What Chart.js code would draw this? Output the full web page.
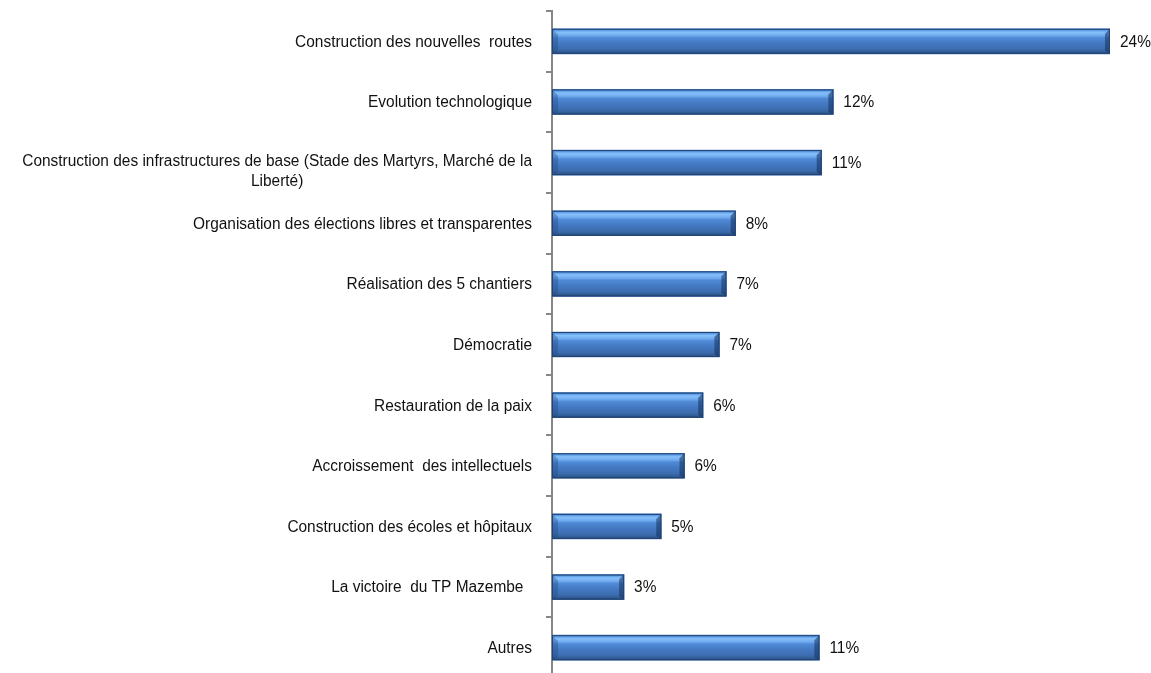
<!DOCTYPE html>
<html>
<head>
<meta charset="utf-8">
<script src="https://cdn.jsdelivr.net/npm/chart.js@4"></script>
<style>
html,body{margin:0;padding:0;background:#fff;overflow:hidden}
#wrap{position:relative;width:1151px;height:678px}
</style>
</head>
<body>
<div id="wrap"><canvas id="chart"></canvas></div>
<script>
const categories = [
    'Construction des nouvelles  routes',
    'Evolution technologique',
    ['Construction des infrastructures de base (Stade des Martyrs, Marché de la', 'Liberté)'],
    'Organisation des élections libres et transparentes',
    'Réalisation des 5 chantiers',
    'Démocratie',
    'Restauration de la paix',
    'Accroissement  des intellectuels',
    'Construction des écoles et hôpitaux',
    'La victoire  du TP Mazembe  ',
    'Autres'
];
const values = [24, 12.1, 11.6, 7.9, 7.5, 7.2, 6.5, 5.7, 4.7, 3.1, 11.5];
const valueLabels = ['24%', '12%', '11%', '8%', '7%', '7%', '6%', '6%', '5%', '3%', '11%'];

const FONT = '16px "Liberation Sans", Arial, sans-serif';
const SQUEEZE = 0.965; // reference text is a bit condensed

function squeezedText(ctx, text, x, y, align) {
    ctx.save();
    ctx.translate(x, y);
    ctx.scale(SQUEEZE, 1);
    ctx.textAlign = align;
    ctx.fillText(text, 0, 0);
    ctx.restore();
}

// draws the bevelled bar faces, value labels and category labels
const barFace = {
    id: 'barFace',
    afterDatasetsDraw(chart) {
        const ctx = chart.ctx;
        const meta = chart.getDatasetMeta(0);
        ctx.save();
        meta.data.forEach((bar, i) => {
            const top = bar.y - bar.height / 2;
            const h = bar.height;
            const left = bar.base;
            const right = bar.x;
            const w = right - left;

            const g = ctx.createLinearGradient(0, top, 0, top + h);
            g.addColorStop(0, '#3f7fd0');
            g.addColorStop(0.06, '#5c9be6');
            g.addColorStop(0.14, '#86c0fa');
            g.addColorStop(0.26, '#72acf0');
            g.addColorStop(0.36, '#4f8ad6');
            g.addColorStop(0.6, '#4377c0');
            g.addColorStop(0.82, '#3c6cae');
            g.addColorStop(0.9, '#33609a');
            g.addColorStop(1, '#27497a');
            ctx.fillStyle = g;
            ctx.fillRect(left, top, w, h);

            // right bevel
            ctx.fillStyle = 'rgba(20,50,95,0.55)';
            ctx.beginPath();
            ctx.moveTo(right - 5, top + 5);
            ctx.lineTo(right, top);
            ctx.lineTo(right, top + h);
            ctx.lineTo(right - 5, top + h - 3);
            ctx.closePath();
            ctx.fill();
            // left bevel
            ctx.fillStyle = 'rgba(30,70,130,0.35)';
            ctx.beginPath();
            ctx.moveTo(left, top);
            ctx.lineTo(left + 6, top + 6);
            ctx.lineTo(left + 6, top + h - 3);
            ctx.lineTo(left, top + h);
            ctx.closePath();
            ctx.fill();

            ctx.strokeStyle = '#22446f';
            ctx.lineWidth = 1;
            ctx.strokeRect(left + 0.5, top + 0.5, w - 1, h - 1);

            ctx.fillStyle = '#111';
            ctx.font = FONT;
            ctx.textBaseline = 'middle';
            squeezedText(ctx, valueLabels[i], right + 10, bar.y + 1, 'left');
        });

        const yScale = chart.scales.y;
        const xRight = yScale.right - 20;
        ctx.font = FONT;
        ctx.fillStyle = '#111';
        ctx.textBaseline = 'middle';
        categories.forEach((lab, i) => {
            const y = yScale.getPixelForTick(i) + 1;
            if (Array.isArray(lab)) {
                const widest = Math.max(...lab.map(l => ctx.measureText(l).width)) * SQUEEZE;
                const cx = xRight - widest / 2;
                lab.forEach((line, k) => squeezedText(ctx, line, cx, y - 2 + k * 20, 'center'));
            } else {
                squeezedText(ctx, lab, xRight, y, 'right');
            }
        });
        ctx.restore();
    }
};

new Chart(document.getElementById('chart'), {
    type: 'bar',
    data: {
        labels: categories,
        datasets: [{
            data: values,
            backgroundColor: '#4377c0',
            borderWidth: 0,
            barThickness: 25
        }]
    },
    options: {
        indexAxis: 'y',
        responsive: true,
        maintainAspectRatio: false,
        animation: false,
        layout: { padding: { left: 546, right: 41, top: 11, bottom: 0 } },
        plugins: {
            legend: { display: false },
            tooltip: { enabled: false }
        },
        scales: {
            x: {
                display: false,
                min: 0,
                max: 24
            },
            y: {
                grid: {
                    drawOnChartArea: false,
                    drawTicks: true,
                    tickLength: 6,
                    color: '#878787',
                    lineWidth: 2
                },
                border: { color: '#878787', width: 2 },
                ticks: { display: false }
            }
        }
    },
    plugins: [barFace]
});
</script>
</body>
</html>
